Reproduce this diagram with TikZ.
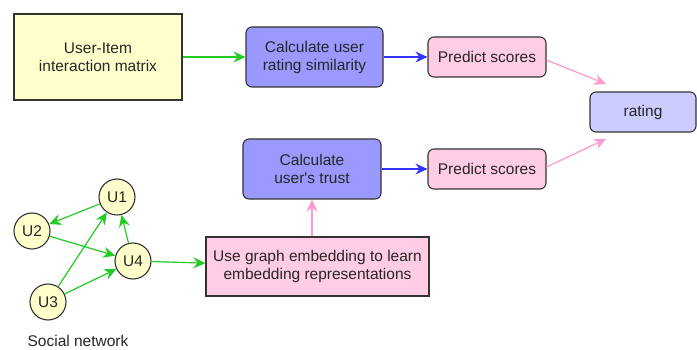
\documentclass[tikz,border=0pt]{standalone}
\usepackage{fontspec}
\setmainfont{Liberation Sans}
\usetikzlibrary{arrows.meta}
\definecolor{cyellow}{HTML}{FFFFCC}
\definecolor{cblue}{HTML}{9999FF}
\definecolor{clblue}{HTML}{CCCCFF}
\definecolor{cpink}{HTML}{FFCCE6}
\definecolor{agreen}{HTML}{22CC22}
\definecolor{ablue}{HTML}{3333FF}
\definecolor{apink}{HTML}{FF99CC}
\definecolor{border}{HTML}{333333}
\tikzset{
  every node/.style={font=\fontsize{15.5}{18}\selectfont, text=black!85, align=center},
  box/.style={draw=border, line width=1.1pt, inner sep=0pt},
  rbox/.style={box, rounded corners=6pt},
  unode/.style={draw=border, line width=1.1pt, fill=cyellow, circle, minimum size=36pt, inner sep=0pt},
  arr/.style={line width=1.2pt, -{Stealth[length=12pt,width=11pt,inset=4pt]}},
  garr/.style={arr, draw=agreen, fill=agreen},
  barr/.style={arr, draw=ablue, fill=ablue},
  parr/.style={arr, draw=apink, fill=apink},
}
\begin{document}
\begin{tikzpicture}[x=1pt,y=-1pt]
\useasboundingbox (0,0) rectangle (697,350);
\node[box, fill=cyellow, minimum width=168pt, minimum height=86pt] (uim) at (98,57) {User-Item\\interaction matrix};
\node[rbox, fill=cblue, minimum width=137pt, minimum height=60pt] (sim) at (314.5,57) {Calculate user\\rating similarity};
\node[rbox, fill=cpink, minimum width=118pt, minimum height=40pt] (p1) at (487,57) {Predict scores};
\node[rbox, fill=clblue, minimum width=106pt, minimum height=40pt] (rate) at (643,112) {rating};
\node[rbox, fill=cblue, minimum width=138pt, minimum height=60pt] (trust) at (312,169) {Calculate\\user\textquotesingle s trust};
\node[rbox, fill=cpink, minimum width=118pt, minimum height=40pt] (p2) at (487,169) {Predict scores};
\node[box, fill=cpink, minimum width=223pt, minimum height=59pt] (emb) at (317.5,266.5) {Use graph embedding to learn\\embedding representations};
\node[unode] (u1) at (117,197) {U1};
\node[unode] (u2) at (32,231) {U2};
\node[unode] (u4) at (133,261) {U4};
\node[unode] (u3) at (48,302) {U3};
\node (sn) at (78,341) {Social network};

\coordinate (r1) at (606,84);
\coordinate (r2) at (606,139);

\draw[garr] (uim) -- (sim);
\draw[barr] (sim) -- (p1);
\draw[barr] (trust) -- (p2);
\draw[parr] (p1.east) ++(0,3) -- (r1);
\draw[parr] (p2.east) ++(0,-2) -- (r2);
\draw[parr] (emb.north -| trust.south) -- (trust.south);
\draw[garr] (u4) -- (emb);
\draw[garr] (u1) -- (u2);
\draw[garr] (u2) -- (u4);
\draw[garr] (u3) -- (u1);
\draw[garr] (u3) -- (u4);
\draw[garr] (u4) -- (u1);
\end{tikzpicture}
\end{document}
